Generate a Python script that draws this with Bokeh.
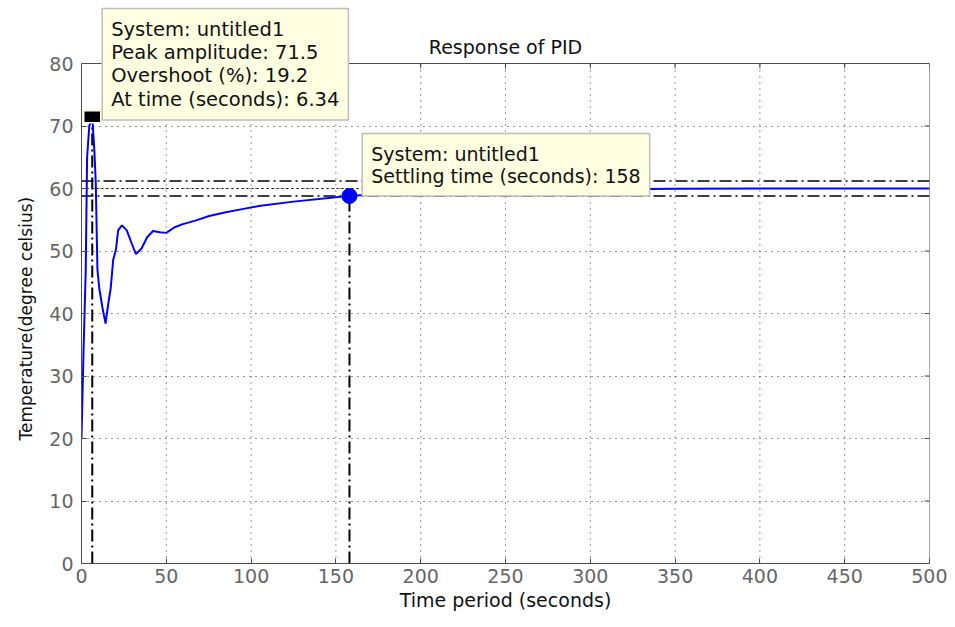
from bokeh.plotting import figure
from bokeh.models import Label, Range1d, FixedTicker, Title
from bokeh.embed import file_html
from bokeh.resources import INLINE

# ---- data ----
time_s = [0, 1.2, 2.5, 3.3, 4.6, 6.34, 7.6, 8.4, 9.4, 10.5, 12.3, 14.2, 15.8, 17.2,
          18.7, 20.3, 21.6, 23.8, 26.7, 29.6, 32.1, 35.4, 38.7, 42.2, 46.1, 50.0,
          54.9, 59.8, 67.6, 75.3, 85.1, 94.8, 104.6, 125, 150, 158, 175, 200, 250,
          300, 350, 400, 500]
temp_c = [20, 34, 47, 65, 70, 71.5, 66, 61, 47, 44, 41, 38.4, 41.6, 44,
          48.6, 50.2, 53.3, 54.1, 53.3, 51.2, 49.5, 50.4, 52.2, 53.2, 53.0, 52.9,
          53.8, 54.3, 54.9, 55.6, 56.2, 56.7, 57.2, 57.9, 58.6, 58.8, 59.1, 59.4, 59.7,
          59.85, 59.95, 60.0, 60.0]
x_ticks = [0, 50, 100, 150, 200, 250, 300, 350, 400, 450, 500]
y_ticks = [0, 10, 20, 30, 40, 50, 60, 70, 80]

peak_time = 6.34
peak_amplitude = 71.5
overshoot_pct = 19.2
settling_time = 158
settling_value = 58.8
final_value = 60.0
band_low = 58.8
band_high = 61.2

X_MIN, X_MAX = 0, 500
Y_MIN, Y_MAX = 0, 80

FONT = "DejaVu Sans"
BLACK = "#000000"
FRAME = "#4d4d4d"

FRAME_W = 848
FRAME_H = 563          # frame reaches the canvas top so the annotations above y=80 are drawn
TOP_GAP = 63           # pixels from the canvas top down to y=80
px_per_unit = (FRAME_H - TOP_GAP) / (Y_MAX - Y_MIN)
px_per_unit_x = FRAME_W / (X_MAX - X_MIN)
y_top = Y_MIN + FRAME_H / px_per_unit

p = figure(frame_width=FRAME_W, frame_height=FRAME_H,
           x_range=Range1d(X_MIN, X_MAX), y_range=Range1d(Y_MIN, y_top),
           output_backend="svg", toolbar_location=None, title=None,
           min_border_left=81, min_border_right=18, min_border_top=0,
           min_border_bottom=46, background_fill_color="white",
           border_fill_color="white", outline_line_color=None)

# axes
for ax, ticks in ((p.xaxis[0], x_ticks), (p.yaxis[0], y_ticks)):
    ax.ticker = FixedTicker(ticks=ticks)
    ax.major_tick_in = 5
    ax.major_tick_out = 0
    ax.minor_tick_line_color = None
    ax.axis_line_color = FRAME
    ax.major_tick_line_color = FRAME
    ax.major_label_text_font = FONT
    ax.major_label_text_font_size = "19px"
    ax.major_label_text_color = "#666666"
    ax.axis_label_text_font = FONT
    ax.axis_label_text_font_style = "normal"
    ax.axis_label_text_color = "#111111"

p.yaxis[0].bounds = (Y_MIN, Y_MAX)
p.yaxis[0].major_label_standoff = 8
p.xaxis[0].axis_label = "Time period (seconds)"
p.xaxis[0].axis_label_text_font_size = "19px"
p.xaxis[0].major_label_standoff = 5
p.xaxis[0].axis_label_standoff = 3

# y-axis title, placed along the 0-80 span (the frame itself is taller)
p.add_layout(Title(text="Temperature(degree celsius)", align="left", offset=123,
                   standoff=22, text_font=FONT, text_font_size="17px",
                   text_font_style="normal", text_color="#111111"), "left")

# top and right edges of the axes box, with inward ticks
tick_len_y = 5 / px_per_unit
tick_len_x = 5 / px_per_unit_x
p.line([X_MIN, X_MAX, X_MAX], [Y_MAX, Y_MAX, Y_MIN], line_color=FRAME, line_width=1)
p.segment(x0=x_ticks, y0=[Y_MAX] * len(x_ticks), x1=x_ticks,
          y1=[Y_MAX - tick_len_y] * len(x_ticks), line_color=FRAME, line_width=1)
p.segment(x0=[X_MAX] * len(y_ticks), y0=y_ticks, x1=[X_MAX - tick_len_x] * len(y_ticks),
          y1=y_ticks, line_color=FRAME, line_width=1)

# grid (vertical lines drawn only inside the axes box)
p.xgrid.visible = False
p.segment(x0=x_ticks[1:-1], y0=[Y_MIN] * (len(x_ticks) - 2), x1=x_ticks[1:-1],
          y1=[Y_MAX] * (len(x_ticks) - 2), line_color=BLACK, line_dash="1 5",
          line_width=1, line_alpha=0.8)
p.ygrid[0].ticker = FixedTicker(ticks=y_ticks[1:-1])
p.ygrid[0].grid_line_color = BLACK
p.ygrid[0].grid_line_dash = "1 5"
p.ygrid[0].grid_line_alpha = 0.8

# settling band and steady-state reference lines
p.line([X_MIN, X_MAX], [final_value, final_value], line_color=BLACK, line_dash="2 3",
       line_width=1.2)
for v in (band_low, band_high):
    p.line([X_MIN, X_MAX], [v, v], line_color=BLACK, line_dash="12 4 2 4", line_width=1.5)

# vertical markers
p.line([peak_time, peak_time], [Y_MIN, peak_amplitude], line_color=BLACK,
       line_dash="12 4 2 4", line_width=2)
p.line([settling_time, settling_time], [Y_MIN, settling_value], line_color=BLACK,
       line_dash="12 4 2 4", line_width=2)

# response curve
p.line(time_s, temp_c, line_color="#0000FF", line_width=2)

# peak marker and settling marker
p.rect([peak_time], [peak_amplitude], width=17, height=12, width_units="screen",
       height_units="screen", fill_color=BLACK, line_color="#FFFFE1", line_width=1.5)
p.scatter([settling_time], [settling_value], marker="circle", size=15,
          fill_color="#0000FF", line_color="#0000FF")

# annotations (data tips)
common = dict(text_font=FONT, text_color="#111111",
              background_fill_color="#FFFFE1", border_line_color="#BDBDBD",
              border_line_width=1.5, padding=9, text_line_height=1.02,
              anchor="top_left", text_align="left", text_baseline="top")
p.add_layout(Label(x=12.2, y=Y_MIN + (FRAME_H - 8) / px_per_unit, text_font_size="19.5px",
                   text=f"System: untitled1\nPeak amplitude: {peak_amplitude}\n"
                        f"Overshoot (%): {overshoot_pct}\nAt time (seconds): {peak_time}",
                   **common))
p.add_layout(Label(x=165.5, y=Y_MIN + (FRAME_H - 133) / px_per_unit, text_font_size="19px",
                   text=f"System: untitled1\nSettling time (seconds): {settling_time}",
                   **common))

# title
p.add_layout(Label(x=(X_MIN + X_MAX) / 2, y=Y_MAX, y_offset=17, text="Response of PID",
                   text_font=FONT, text_font_size="19px", text_color="#111111",
                   text_align="center", text_baseline="middle"))

open("out.html", "w").write(file_html(p, INLINE))
